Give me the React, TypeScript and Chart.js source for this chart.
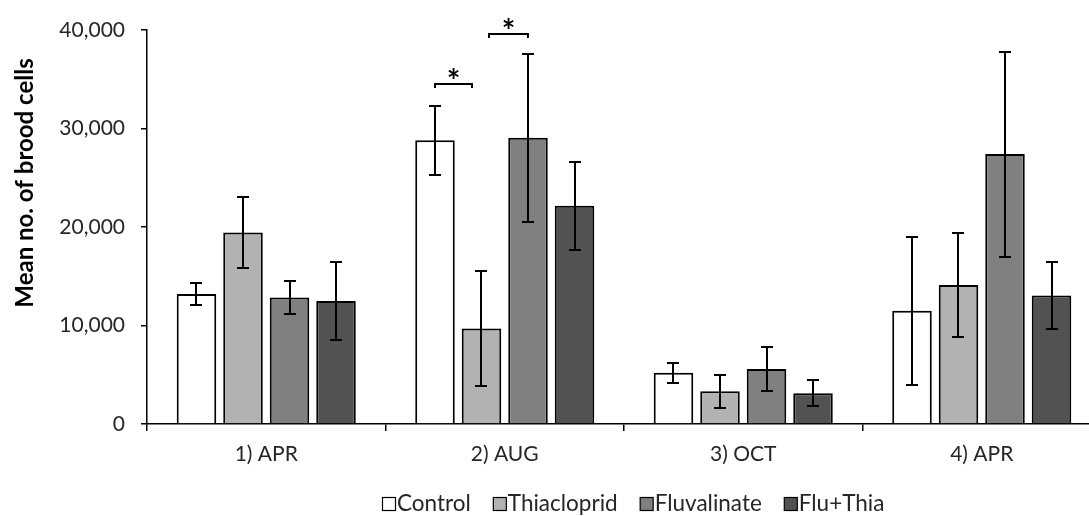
import React, { useEffect, useRef } from "react";
import { Chart, registerables } from "chart.js";

Chart.register(...registerables);

const categories = ["1) APR", "2) AUG", "3) OCT", "4) APR"];
const seriesNames = ["Control", "Thiacloprid", "Fluvalinate", "Flu+Thia"];
const seriesColors = ["#ffffff", "#b2b2b2", "#808080", "#525252"];

const control = [13200, 28800, 5200, 11500];
const controlErr = [1150, 3500, 1020, 7490];
const thiacloprid = [19450, 9700, 3320, 14120];
const thiaclopridErr = [3600, 5850, 1700, 5250];
const fluvalinate = [12850, 29050, 5590, 27400];
const fluvalinateErr = [1670, 8500, 2260, 10400];
const fluThia = [12500, 22150, 3120, 13050];
const fluThiaErr = [3950, 4450, 1320, 3400];

const yTicks = [0, 10000, 20000, 30000, 40000];
const yTitle = "Mean no. of brood cells";

// significance brackets: category index, bar positions (bar index, fractional), value height
const brackets = [
  { category: 1, fromBar: 0, toBar: 0.8, value: 34530, label: "*" },
  { category: 1, fromBar: 1.16, toBar: 2, value: 39600, label: "*" },
];

const FONT = "Lato, 'Open Sans', sans-serif";
const TEXT = "#262626";

const errors = [controlErr, thiaclopridErr, fluvalinateErr, fluThiaErr];

const errorBarPlugin = {
  id: "errorBars",
  afterDatasetsDraw(chart: any) {
    const ctx = chart.ctx;
    const y = chart.scales.y;
    ctx.save();
    ctx.strokeStyle = "#000";
    ctx.lineWidth = 2;
    chart.data.datasets.forEach((ds: any, i: number) => {
      const meta = chart.getDatasetMeta(i);
      meta.data.forEach((bar: any, j: number) => {
        const v = ds.data[j];
        const e = errors[i][j];
        const yt = Math.round(y.getPixelForValue(v + e));
        const yb = Math.round(y.getPixelForValue(v - e));
        const x = Math.round(bar.x);
        ctx.beginPath();
        ctx.moveTo(x, yt);
        ctx.lineTo(x, yb);
        ctx.moveTo(x - 6, yt);
        ctx.lineTo(x + 6, yt);
        ctx.moveTo(x - 6, yb);
        ctx.lineTo(x + 6, yb);
        ctx.stroke();
      });
    });
    // brackets
    brackets.forEach((b) => {
      const barX = (k: number) => {
        const lo = Math.floor(k);
        const hi = Math.min(lo + 1, chart.data.datasets.length - 1);
        const x0 = chart.getDatasetMeta(lo).data[b.category].x;
        const x1 = chart.getDatasetMeta(hi).data[b.category].x;
        return x0 + (x1 - x0) * (k - lo);
      };
      const xa = Math.round(barX(b.fromBar));
      const xb = Math.round(barX(b.toBar));
      const yy = Math.round(y.getPixelForValue(b.value));
      ctx.beginPath();
      ctx.moveTo(xa, yy + 4);
      ctx.lineTo(xa, yy);
      ctx.lineTo(xb, yy);
      ctx.lineTo(xb, yy + 4);
      ctx.stroke();
      ctx.fillStyle = "#000";
      ctx.font = `bold 32px ${FONT}`;
      ctx.textAlign = "center";
      ctx.textBaseline = "alphabetic";
      const m = ctx.measureText(b.label);
      const asc = m.actualBoundingBoxAscent;
      const desc = m.actualBoundingBoxDescent;
      const cy = yy - 11;
      ctx.fillText(b.label, (xa + xb) / 2, cy + (asc - desc) / 2);
    });
    ctx.restore();
  },
};

const decorPlugin = {
  id: "decor",
  afterDraw(chart: any) {
    const ctx = chart.ctx;
    ctx.save();
    // y title
    ctx.translate(25, 183);
    ctx.rotate(-Math.PI / 2);
    ctx.fillStyle = "#000";
    ctx.font = `bold 24px ${FONT}`;
    ctx.textAlign = "center";
    ctx.textBaseline = "middle";
    ctx.fillText(yTitle, 0, 0);
    ctx.restore();

    // legend
    ctx.save();
    ctx.font = `22.5px ${FONT}`;
    ctx.textBaseline = "middle";
    ctx.textAlign = "left";
    const box = 13;
    const gapBoxText = 2;
    const gapItems = 22;
    let x = 382;
    const cy = 504;
    seriesNames.forEach((n, i) => {
      ctx.fillStyle = seriesColors[i];
      ctx.fillRect(x + 0.5, cy - 7 + 0.5, box, box);
      ctx.strokeStyle = "#000";
      ctx.lineWidth = 1.2;
      ctx.strokeRect(x + 0.5, cy - 7 + 0.5, box, box);
      ctx.fillStyle = TEXT;
      ctx.fillText(n, x + box + gapBoxText, cy);
      x += box + gapBoxText + ctx.measureText(n).width + gapItems;
    });
    ctx.restore();
  },
};

export default function App() {
  const ref = useRef<HTMLCanvasElement | null>(null);
  useEffect(() => {
    if (!ref.current) return;
    const values = [control, thiacloprid, fluvalinate, fluThia];
    const chart = new Chart(ref.current, {
      type: "bar",
      data: {
        labels: categories,
        datasets: seriesNames.map((name, i) => ({
          label: name,
          data: values[i],
          backgroundColor: seriesColors[i],
          borderColor: "#000",
          borderWidth: 2,
          categoryPercentage: 0.78,
          barPercentage: 0.85,
        })),
      },
      options: {
        responsive: false,
        animation: false,
        devicePixelRatio: 1,
        layout: { padding: { top: 30, left: 0, right: 9, bottom: 0 } },
        plugins: {
          legend: { display: false },
          tooltip: { enabled: false },
        },
        scales: {
          x: {
            offset: true,
            grid: {
              offset: true,
              drawOnChartArea: false,
              tickLength: 7,
              color: "#000",
              lineWidth: 1.5,
            },
            border: { color: "#000", width: 1.5 },
            ticks: {
              font: { family: FONT, size: 21 },
              color: TEXT,
              padding: 11,
            },
            afterFit: (s: any) => {
              s.height = 92;
            },
          },
          y: {
            min: 0,
            max: 40000,
            afterBuildTicks: (s: any) => {
              s.ticks = yTicks.map((v) => ({ value: v }));
            },
            grid: {
              drawOnChartArea: false,
              tickLength: 6,
              color: "#000",
              lineWidth: 1.5,
            },
            border: { color: "#000", width: 1.5 },
            ticks: {
              font: { family: FONT, size: 21 },
              color: TEXT,
              padding: 16,
              callback: (v: any) => Number(v).toLocaleString("en-US"),
            },
            afterFit: (s: any) => {
              s.width = 147;
            },
          },
        },
      },
      plugins: [errorBarPlugin, decorPlugin],
    });
    return () => chart.destroy();
  }, []);
  return (
    <div
      style={{
        position: "fixed",
        left: 0,
        top: 0,
        width: 1089,
        height: 516,
        overflow: "hidden",
        background: "#fff",
      }}
    >
      <canvas ref={ref} width={1110} height={516} style={{ display: "block" }} />
    </div>
  );
}
